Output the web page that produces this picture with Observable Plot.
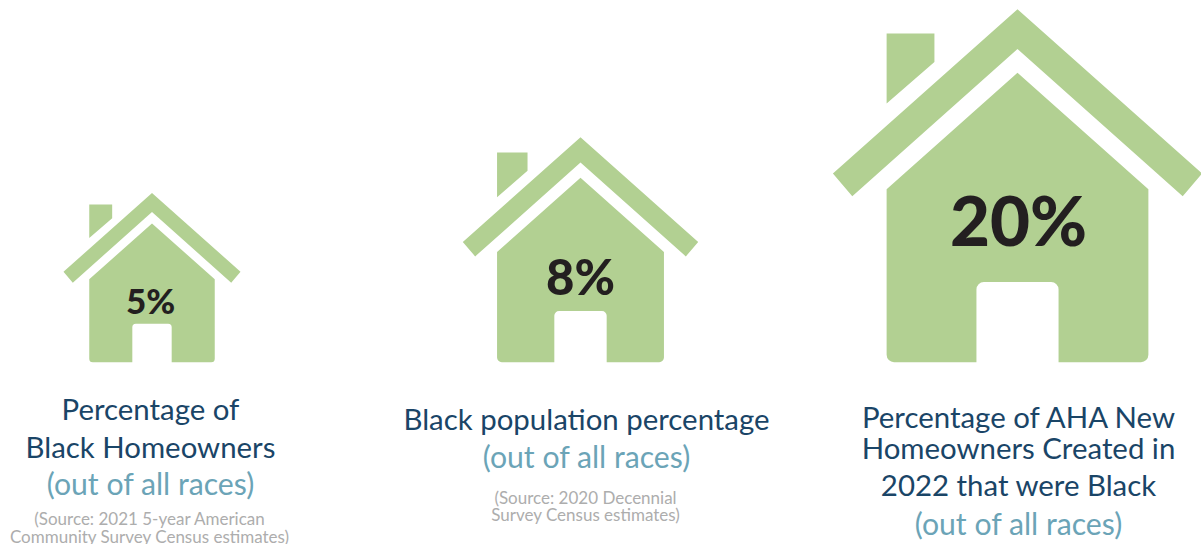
<!DOCTYPE html>
<html>
<head>
<meta charset="utf-8">
<script src="https://cdn.jsdelivr.net/npm/d3@7"></script>
<script src="https://cdn.jsdelivr.net/npm/@observablehq/plot@0.6"></script>
<style>
  html, body { margin: 0; padding: 0; background: #fff; overflow: hidden; }
  svg { display: block; }
</style>
</head>
<body>
<div id="chart"></div>
<script>
// Share of Black households and residents, one house per measure
const measures = ["Black Homeowners", "Black population", "AHA New Homeowners"];
const percentages = [5, 8, 20];

// Label copy, one line per entry
const headingLines = [
  "Percentage of", "Black Homeowners",
  "Black population percentage",
  "Percentage of AHA New", "Homeowners Created in", "2022 that were Black"
];
const qualifierLines = ["(out of all races)", "(out of all races)", "(out of all races)"];
const sourceLines = [
  "(Source: 2021 5-year American", "Community Survey Census estimates)",
  "(Source: 2020 Decennial", "Survey Census estimates)"
];

// Layout, in page pixels
const W = 1201, H = 544, GROUND = 361.7;
const houseX = [151.5, 580, 1017];
const houseR = [88.5, 117.7, 184.6];
const valueX = [150, 580, 1018];
const valueY = [302, 279, 223];
const valueSize = [35, 49, 69];
const headingX = [150, 150, 586, 1018, 1018, 1018];
const headingY = [419, 457, 429, 427, 458, 495];
const qualifierX = [150, 586, 1018];
const qualifierY = [494, 467, 534];
const sourceX = [149, 149, 585, 585];
const sourceY = [524, 542, 503, 520];

const GREEN = "#b2d092", NAVY = "#1a4567", TEAL = "#6ba4b7", GREY = "#adadad", INK = "#231f20";
const FONT = "Lato, 'Open Sans', sans-serif";

// House outline scaled by the dot radius: origin at the middle of the ground line,
// one unit equals half the width of the roof.
const house = {
  draw(ctx, size) {
    const r = Math.sqrt(size / Math.PI);
    const X = (u) => u * r, Y = (v) => -v * r;
    const poly = (pts) => {
      pts.forEach(([u, v], i) => i ? ctx.lineTo(X(u), Y(v)) : ctx.moveTo(X(u), Y(v)));
      ctx.closePath();
    };
    // roof
    poly([[0, 1.9116], [1, 1.022], [0.895, 0.8988], [0, 1.696], [-0.895, 0.8988], [-1, 1.022]]);
    // chimney
    poly([[-0.709, 1.781], [-0.45, 1.781], [-0.45, 1.626], [-0.709, 1.402]]);
    // walls with the door cut out of the outline
    const c = 0.04 * r;
    ctx.moveTo(X(-0.2224), Y(0));
    ctx.lineTo(X(-0.709) + c, Y(0));
    ctx.arcTo(X(-0.709), Y(0), X(-0.709), Y(0) - c, c);
    ctx.lineTo(X(-0.709), Y(0.9368));
    ctx.lineTo(X(0), Y(1.5676));
    ctx.lineTo(X(0.709), Y(0.9368));
    ctx.lineTo(X(0.709), Y(0) - c);
    ctx.arcTo(X(0.709), Y(0), X(0.709) - c, Y(0), c);
    ctx.lineTo(X(0.2224), Y(0));
    ctx.lineTo(X(0.2224), Y(0.434) + c);
    ctx.arcTo(X(0.2224), Y(0.434), X(0.2224) - c, Y(0.434), c);
    ctx.lineTo(X(-0.2224) + c, Y(0.434));
    ctx.arcTo(X(-0.2224), Y(0.434), X(-0.2224), Y(0.434) + c, c);
    ctx.closePath();
  }
};

const idx = d3.range(measures.length);

// One set of text lines drawn at a shared size and colour
const lines = (copy, xs, ys, fontSize, fill) => Plot.text(copy, {
  x: (d, i) => xs[i],
  y: (d, i) => ys[i],
  text: (d) => d,
  lineAnchor: "bottom",
  fontSize,
  fill
});

const chart = Plot.plot({
  width: W,
  height: H,
  margin: 0,
  style: { background: "#fff", fontFamily: FONT },
  x: { type: "linear", domain: [0, W], range: [0, W], axis: null },
  y: { type: "linear", domain: [0, H], range: [0, H], axis: null },
  // house size follows the percentage
  r: { type: "linear", domain: percentages, range: houseR },
  marks: [
    Plot.dot(idx, {
      x: (i) => houseX[i],
      y: GROUND,
      r: (i) => percentages[i],
      symbol: house,
      fill: GREEN,
      stroke: "none"
    }),
    // percentage printed inside each house
    ...idx.map((i) => Plot.text([percentages[i]], {
      x: valueX[i],
      y: valueY[i],
      text: (d) => `${d}%`,
      fontSize: valueSize[i],
      fontWeight: 900,
      fontFamily: "Lato, sans-serif",
      fill: INK
    })),
    lines(headingLines, headingX, headingY, 29.4, NAVY),
    lines(qualifierLines, qualifierX, qualifierY, 30.2, TEAL),
    lines(sourceLines, sourceX, sourceY, 17, GREY)
  ]
});

document.getElementById("chart").append(chart);
</script>
</body>
</html>
